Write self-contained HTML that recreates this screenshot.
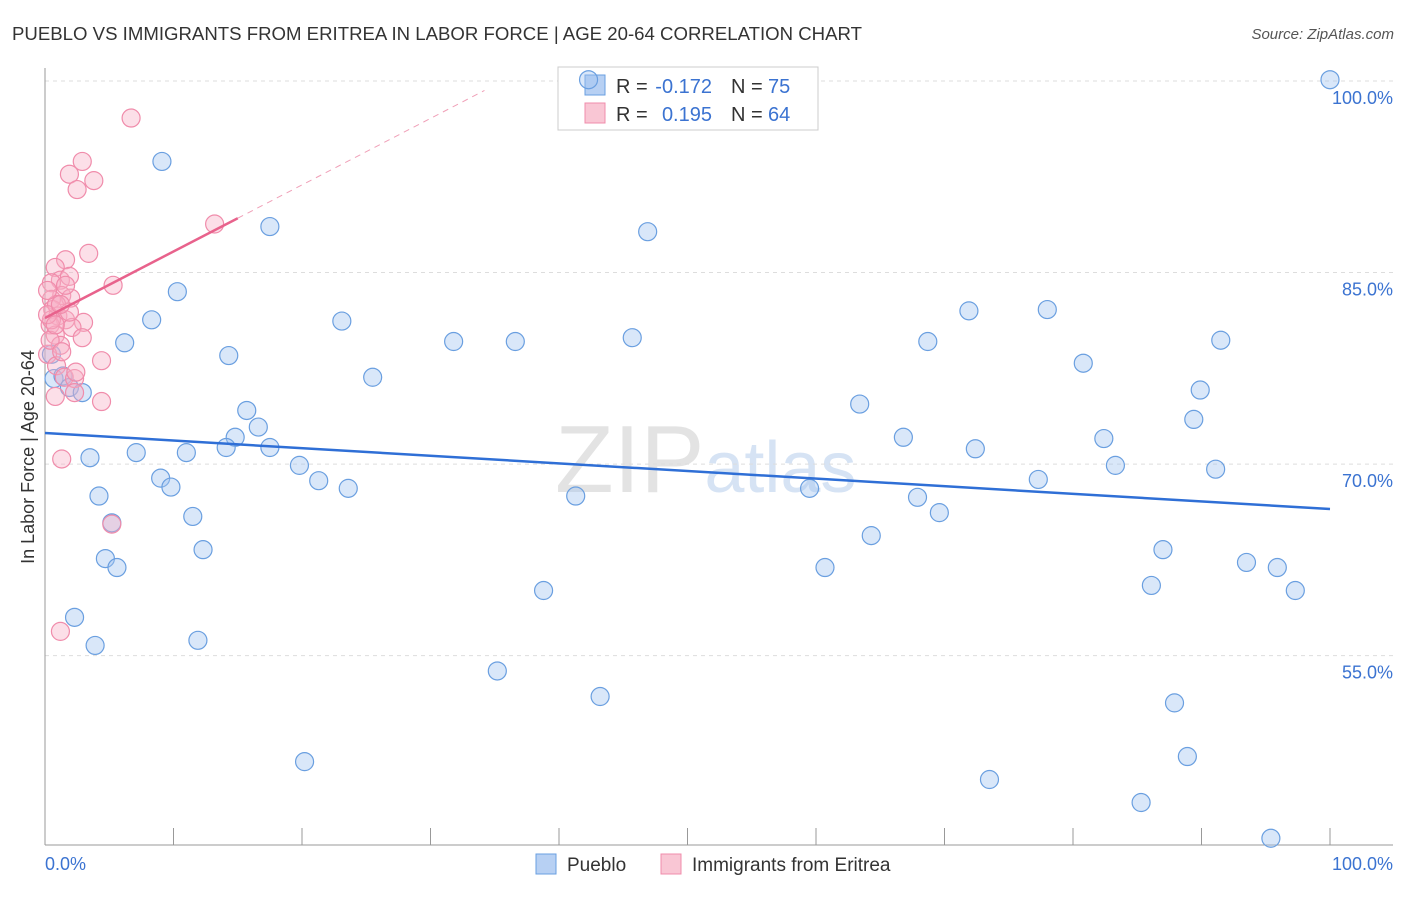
<!DOCTYPE html>
<html><head><meta charset="utf-8"><style>
body{margin:0;background:#fff;font-family:"Liberation Sans",sans-serif}
svg text{font-family:"Liberation Sans",sans-serif}
</style></head><body>
<svg id="chart" width="1406" height="892" xmlns="http://www.w3.org/2000/svg">
<text x="12" y="40" font-size="18" fill="#333" textLength="850" lengthAdjust="spacingAndGlyphs">PUEBLO VS IMMIGRANTS FROM ERITREA IN LABOR FORCE | AGE 20-64 CORRELATION CHART</text>
<text x="1394" y="39" font-size="15" fill="#555" text-anchor="end" font-style="italic">Source: ZipAtlas.com</text>
<text x="555" y="492" font-size="96" fill="#d8d8d8" font-family="Liberation Serif" opacity="0.7">ZIP<tspan fill="#c5d8f0" font-family="Liberation Sans" font-size="72">atlas</tspan></text>
<g id="grid"></g><g id="axes"></g>
<g>
<rect x="558" y="67" width="260" height="63" fill="#fff" stroke="#ccc"/>
<rect x="585" y="75" width="20" height="20" fill="#b7d0f3" stroke="#6a9fe0"/>
<rect x="585" y="103" width="20" height="20" fill="#f9c6d4" stroke="#f08cab"/>
<text x="616" y="93" font-size="20" fill="#333">R =</text>
<text x="712" y="93" font-size="20" fill="#3b73d1" text-anchor="end">-0.172</text>
<text x="731" y="93" font-size="20" fill="#333">N =</text>
<text x="768" y="93" font-size="20" fill="#3b73d1">75</text>
<text x="616" y="121" font-size="20" fill="#333">R =</text>
<text x="712" y="121" font-size="20" fill="#3b73d1" text-anchor="end">0.195</text>
<text x="731" y="121" font-size="20" fill="#333">N =</text>
<text x="768" y="121" font-size="20" fill="#3b73d1">64</text>
</g>
<g id="marks"></g>
<text transform="translate(34,457) rotate(-90)" font-size="18" fill="#333" text-anchor="middle">In Labor Force | Age 20-64</text>
<g>
<rect x="536" y="854" width="20" height="20" fill="#b7d0f3" stroke="#6a9fe0"/>
<text x="567" y="871" font-size="19" fill="#333">Pueblo</text>
<rect x="661" y="854" width="20" height="20" fill="#f9c6d4" stroke="#f08cab"/>
<text x="692" y="871" font-size="19" fill="#333">Immigrants from Eritrea</text>
</g>
</svg>
<script>
const blueX=[42.3,100,9.1,17.5,46.9,10.3,8.3,23.1,71.9,78.0,6.2,14.3,31.8,36.6,45.7,68.7,91.5,80.8,25.5,0.7,1.4,1.9,2.9,89.9,63.4,15.7,89.4,14.8,16.6,14.1,17.5,7.1,11.0,3.5,66.8,72.4,82.4,19.8,83.3,91.1,9.0,9.8,21.3,23.6,77.3,59.5,4.2,41.3,67.9,11.5,69.6,5.2,64.3,12.3,87.0,4.7,5.6,60.7,93.5,95.9,86.1,38.8,97.3,2.3,3.9,11.9,35.2,43.2,87.9,88.9,20.2,73.5,85.3,95.4,0.5];
const blueY=[100.1,100.1,93.7,88.6,88.2,83.5,81.3,81.2,82.0,82.1,79.5,78.5,79.6,79.6,79.9,79.6,79.7,77.9,76.8,76.7,76.9,76.0,75.6,75.8,74.7,74.2,73.5,72.1,72.9,71.3,71.3,70.9,70.9,70.5,72.1,71.2,72.0,69.9,69.9,69.6,68.9,68.2,68.7,68.1,68.8,68.1,67.5,67.5,67.4,65.9,66.2,65.4,64.4,63.3,63.3,62.6,61.9,61.9,62.3,61.9,60.5,60.1,60.1,58.0,55.8,56.2,53.8,51.8,51.3,47.1,46.7,45.3,43.5,40.7,78.6];
const pinkX=[6.7,2.9,1.9,3.8,2.5,13.2,3.4,1.6,0.8,1.2,1.9,0.5,5.3,1.3,0.5,2.0,0.6,1.0,1.6,3.0,2.1,0.4,0.8,2.9,1.2,0.2,4.4,0.9,1.5,2.3,0.8,2.3,4.4,1.3,5.2,1.2,0.5,0.9,0.2,1.6,1.9,0.4,1.3,2.4,0.2,0.8,1.2];
const pinkY=[97.1,93.7,92.7,92.2,91.5,88.8,86.5,86.0,85.4,84.4,84.7,84.2,84.0,83.2,82.9,83.0,82.1,81.6,81.3,81.1,80.7,80.9,80.1,79.9,79.3,78.6,78.1,77.7,76.8,76.7,75.3,75.6,74.9,70.4,65.3,56.9,81.3,82.5,83.6,84.0,81.9,79.7,78.8,77.2,81.7,80.9,82.5];
const yTicks=[100,85,70,55];
const blueTrend=[72.44,66.48];
const pinkTrend=[81.44,0.521];
const NS='http://www.w3.org/2000/svg';
const sx=v=>45+v*12.85, sy=v=>81+(100-v)*12.77;
function mk(t,a,p){const e=document.createElementNS(NS,t);for(const k in a)e.setAttribute(k,a[k]);p.appendChild(e);return e;}
const grid=document.getElementById('grid'),axes=document.getElementById('axes'),marks=document.getElementById('marks');
yTicks.forEach(v=>{
 const l=mk('line',{x1:45,x2:1393,y1:sy(v),y2:sy(v),stroke:'#ddd','stroke-dasharray':'4,4'},grid);
 
 
 const t=mk('text',{x:1393,y:sy(v)+23,'font-size':18,fill:'#3b73d1','text-anchor':'end'},axes);t.textContent=v.toFixed(1)+'%';
 
 
});
mk('line',{x1:45,x2:45,y1:68,y2:845,stroke:'#999'},axes);
mk('line',{x1:45,x2:1393,y1:845,y2:845,stroke:'#999'},axes);
for(let i=0;i<=10;i++){const t=mk('line',{x1:sx(i*10),x2:sx(i*10),y1:828,y2:845,stroke:'#999'},axes);
 
 }
const x0=mk('text',{x:45,y:870,'font-size':18,fill:'#3b73d1'},axes);x0.textContent='0.0%';


const x1=mk('text',{x:1393,y:870,'font-size':18,fill:'#3b73d1','text-anchor':'end'},axes);x1.textContent='100.0%';


function dots(X,Y,fill,stroke,name){X.forEach((x,i)=>{const c=mk('circle',{cx:sx(x),cy:sy(Y[i]),r:9,fill:fill,stroke:stroke,'stroke-width':1.2},marks);
 
 });}
dots(blueX,blueY,'rgba(160,196,240,0.4)','#6a9fe0','pueblo-point');
dots(pinkX,pinkY,'rgba(248,175,198,0.4)','#f08cab','eritrea-point');
const bt=mk('line',{x1:sx(0),y1:sy(blueTrend[0]),x2:sx(100),y2:sy(blueTrend[1]),stroke:'#2f6fd6','stroke-width':2.5},marks);


const pf=x=>pinkTrend[0]+pinkTrend[1]*x;
const pd=mk('line',{x1:sx(15),y1:sy(pf(15)),x2:sx(34.2),y2:sy(pf(34.2)),stroke:'#f0a0b8','stroke-width':1,'stroke-dasharray':'6,5'},marks);


const pt=mk('line',{x1:sx(0),y1:sy(pf(0)),x2:sx(15),y2:sy(pf(15)),stroke:'#e8628c','stroke-width':2.5},marks);


</script>
</body></html>
